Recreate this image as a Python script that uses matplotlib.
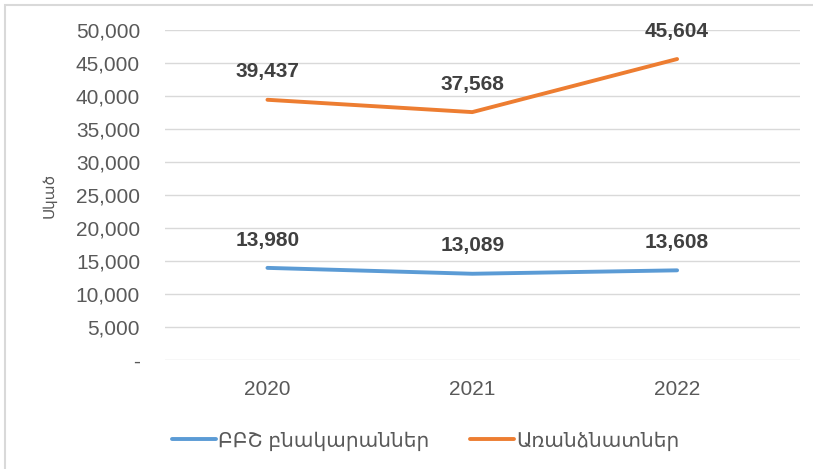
import matplotlib
matplotlib.use("Agg")
import matplotlib.pyplot as plt
import matplotlib.patches as patches
from matplotlib.ticker import FuncFormatter

plt.rcParams['font.family'] = ['Liberation Sans', 'DejaVu Sans']

years = ['2020', '2021', '2022']
apartments = [13980, 13089, 13608]
houses = [39437, 37568, 45604]
series_names = ['ԲԲՇ բնակարաններ', 'Առանձնատներ']
y_label = 'Սկած'

fig = plt.figure(figsize=(8.13, 4.69), dpi=100)
ax = fig.add_axes([0.203, 0.232, 0.781, 0.704])

x = range(len(years))
ax.plot(x, apartments, color='#5B9BD5', linewidth=2.8, solid_capstyle='round',
        label=series_names[0])
ax.plot(x, houses, color='#ED7D31', linewidth=2.8, solid_capstyle='round',
        label=series_names[1])

# data labels above points
for vals in (apartments, houses):
    for i, v in enumerate(vals):
        ax.annotate(f'{v:,}', (i, v), xytext=(0, 20), textcoords='offset points',
                    ha='center', va='center', fontsize=15, fontweight='bold',
                    color='#404040')

ax.set_ylim(0, 50000)
ax.set_yticks(range(0, 50001, 5000))
ax.yaxis.set_major_formatter(FuncFormatter(lambda v, p: '-' if v == 0 else f'{int(v):,}'))
ax.set_xlim(-0.5, 2.6)
ax.set_xticks(list(x))
ax.set_xticklabels(years)

ax.grid(axis='y', color='#D9D9D9', linewidth=1)
ax.set_axisbelow(True)
for s in ax.spines.values():
    s.set_visible(False)
ax.tick_params(length=0, labelsize=15, colors='#595959')
ax.tick_params(axis='y', pad=18)
ax.tick_params(axis='x', pad=14)
ax.set_ylabel(y_label, fontsize=11, color='#595959', labelpad=14)

ax.legend(loc='upper center', bbox_to_anchor=(0.41, -0.16), ncol=2, frameon=False,
          fontsize=14.5, labelcolor='#595959', handlelength=2.2, handletextpad=0.1,
          columnspacing=2.0)

# thin frame around the chart
fig.patches.append(patches.Rectangle((0.006, -0.01), 1.2, 1.0, transform=fig.transFigure,
                                     fill=False, edgecolor='#D9D9D9', linewidth=1.5))

fig.savefig('out.png', dpi=100)
